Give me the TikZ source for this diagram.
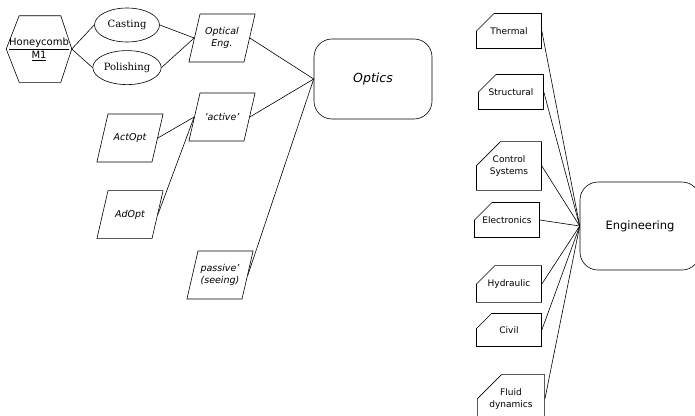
\documentclass[tikz,border=0pt]{standalone}
\usepackage{fontspec}
\setmainfont{DejaVu Sans}
\newfontfamily\seriffam{DejaVu Serif}
\usetikzlibrary{shapes.geometric, shapes.misc, positioning}

\tikzset{
  topic/.style={draw, rounded corners=18pt, minimum width=118pt, minimum height=80pt},
  para/.style={draw, trapezium, trapezium left angle=77, trapezium right angle=103,
    inner xsep=0pt, inner ysep=11pt, font=\fontsize{9.5}{12}\selectfont\itshape,
    execute at begin node={\begin{minipage}[c][26pt]{44pt}\centering},
    execute at end node={\end{minipage}}},
  tab/.style={draw, chamfered rectangle, chamfered rectangle corners=north west,
    chamfered rectangle xsep=11pt, chamfered rectangle ysep=13pt,
    minimum width=65pt, minimum height=33pt, inner sep=1pt,
    align=center, font=\fontsize{9}{12}\selectfont},
  proc/.style={draw, ellipse, minimum width=65pt, minimum height=34pt, inner sep=1pt,
    font=\seriffam\fontsize{10}{12}\selectfont},
  hive/.style={minimum width=65pt, minimum height=66pt, inner sep=0pt,
    align=center, font=\fontsize{10}{13}\selectfont},
  link/.style={line width=0.6pt}
}

\begin{document}
\begin{tikzpicture}[x=1pt, y=-1pt, line width=0.6pt]
\useasboundingbox (0,0) rectangle (695,415);

% optics side
\node[hive] (hc) at (39,49) {\underline{Honeycomb}\\\underline{M1}};
\draw (hc.west) -- ([xshift=13pt]hc.north west) -- ([xshift=-11pt]hc.north east)
  -- (hc.east) -- ([xshift=-11pt]hc.south east) -- ([xshift=13pt]hc.south west) -- cycle;
\node[proc] (cast) at (127,25) {Casting};
\node[proc, below=8pt of cast] (pol) {Polishing};
\node[para] (opteng) at (222,38) {Optical\\Eng.};
\node[topic, font=\fontsize{12.5}{15}\selectfont\itshape] (optics) at (373,79) {Optics};
\node[para] (active) at (222,117) {'active'};
\node[para] (actopt) at (130,138) {ActOpt};
\node[para, below=28pt of actopt] (adopt) {AdOpt};
\node[para] (passive) at (220,275) {passive'\\(seeing)};

\draw[link] (hc.east) -- (cast.west);
\draw[link] (hc.east) -- (pol.west);
\draw[link] (cast.east) -- (opteng.west);
\draw[link] (pol.east) -- (opteng.west);
\draw[link] (opteng.east) -- (optics.west);
\draw[link] (actopt.east) -- (active.west);
\draw[link] (adopt.east) -- (active.west);
\draw[link] (active.east) -- (optics.west);
\draw[link] (passive.east) -- (optics.west);

% engineering side
\node[topic, minimum width=120pt, minimum height=88pt, font=\fontsize{11.5}{14}\selectfont] (eng) at (640,226) {Engineering};
\node[tab] (thermal) at (509,31) {Thermal};
\node[tab] (struct) at (511,92) {Structural};
\node[tab] (control) at (509,166) {Control\\Systems};
\node[tab] (elec) at (507,220) {Electronics};
\node[tab] (hydr) at (509,284) {Hydraulic};
\node[tab] (civil) at (509,330) {Civil};
\node[tab] (fluid) at (511,399) {Fluid\\dynamics};

\foreach \n in {thermal, struct, control, elec, hydr, civil, fluid}
  \draw[link] (\n.east) -- (eng.west);
\end{tikzpicture}
\end{document}
